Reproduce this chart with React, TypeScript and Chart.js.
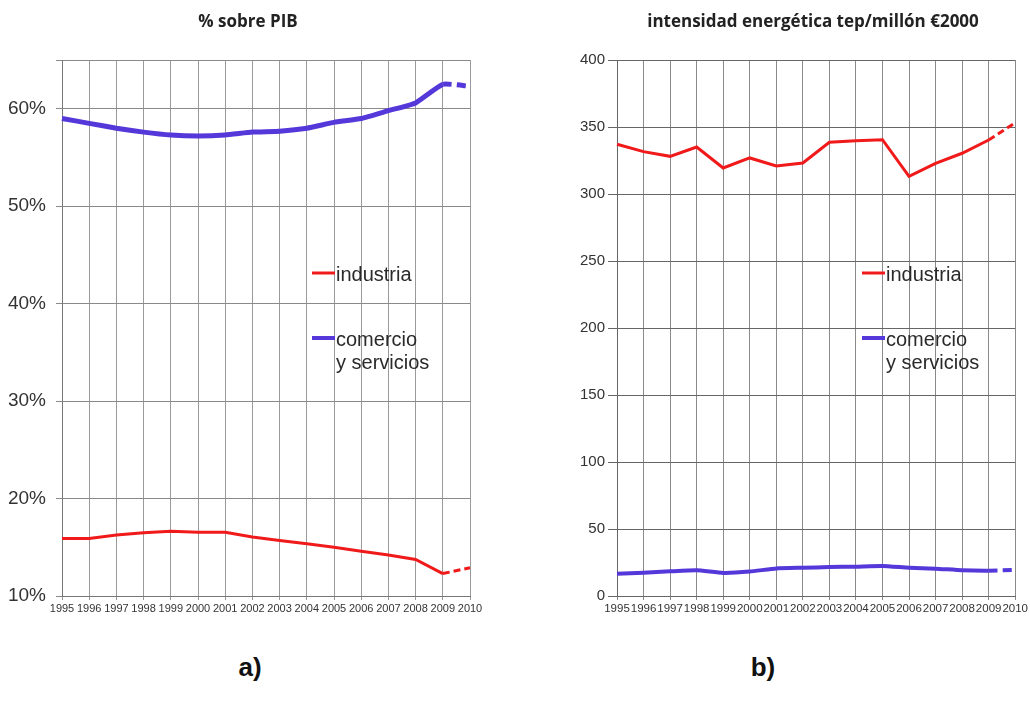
import React, { useEffect, useRef } from 'react';
import { Chart, registerables } from 'chart.js';
Chart.register(...registerables);

const years = ['1995', '1996', '1997', '1998', '1999', '2000', '2001', '2002', '2003', '2004', '2005', '2006', '2007', '2008', '2009', '2010'];
const pibIndustria = [15.9, 15.9, 16.25, 16.5, 16.65, 16.55, 16.55, 16.05, 15.7, 15.35, 15.0, 14.6, 14.2, 13.75, 12.3, 12.9];
const pibServicios = [59.0, 58.5, 58.0, 57.6, 57.3, 57.2, 57.3, 57.6, 57.7, 58.0, 58.6, 59.0, 59.8, 60.6, 62.5, 62.3];
const intIndustria = [337.1, 331.6, 328.1, 335.1, 319.4, 326.9, 320.9, 323.1, 338.6, 339.8, 340.5, 313.2, 322.9, 330.4, 340.3, 353.2];
const intServicios = [16.6, 17.4, 18.4, 19.2, 17.2, 18.2, 20.6, 21.1, 21.6, 21.9, 22.4, 21.1, 20.4, 19.2, 18.9, 19.4];
const pibTicks = [10, 20, 30, 40, 50, 60, 65];
const pibLabeled = [10, 20, 30, 40, 50, 60];
const intTicks = [0, 50, 100, 150, 200, 250, 300, 350, 400];

const RED = '#f01a1a';
const BLUE = '#5538d9';
const LAST_REAL = 14; // dashed from 2009 onwards (estimate)

type Panel = {
  title: string;
  titleX: number;
  legendX: number;
  legendRedY: number;
  legendBlueY: number;
};

function overlayPlugin(p: Panel) {
  return {
    id: 'overlay',
    afterDraw(chart: any) {
      const ctx = chart.ctx as CanvasRenderingContext2D;
      ctx.save();
      ctx.fillStyle = '#222';
      ctx.font = 'bold 17px "Open Sans", sans-serif';
      ctx.textAlign = 'center';
      ctx.textBaseline = 'alphabetic';
      ctx.fillText(p.title, p.titleX, 27);
      ctx.textAlign = 'left';
      ctx.font = '20px "Liberation Sans", Arial, sans-serif';
      ctx.lineWidth = 3;
      ctx.strokeStyle = RED;
      ctx.beginPath();
      ctx.moveTo(p.legendX, p.legendRedY);
      ctx.lineTo(p.legendX + 23, p.legendRedY);
      ctx.stroke();
      ctx.fillStyle = '#2a2a2a';
      ctx.fillText('industria', p.legendX + 24, p.legendRedY + 8);
      ctx.strokeStyle = BLUE;
      ctx.lineWidth = 4;
      ctx.beginPath();
      ctx.moveTo(p.legendX, p.legendBlueY);
      ctx.lineTo(p.legendX + 23, p.legendBlueY);
      ctx.stroke();
      ctx.fillText('comercio', p.legendX + 24, p.legendBlueY + 8);
      ctx.fillText('y servicios', p.legendX + 24, p.legendBlueY + 31);
      ctx.restore();
    },
  };
}

function dashed(d: number[]) {
  return (c: any) => (c.p0DataIndex >= LAST_REAL ? d : undefined);
}

function makeLeft(canvas: HTMLCanvasElement) {
  return new Chart(canvas, {
    type: 'line',
    data: {
      labels: years,
      datasets: [
        {
          data: pibIndustria,
          borderColor: RED,
          borderWidth: 3,
          pointRadius: 0,
          tension: 0,
          segment: { borderDash: dashed([7, 4]) },
        },
        {
          data: pibServicios,
          borderColor: BLUE,
          borderWidth: 5,
          pointRadius: 0,
          tension: 0.15,
          segment: { borderDash: dashed([9, 5]) },
        },
      ],
    },
    options: {
      responsive: false,
      animation: false,
      devicePixelRatio: 1,
      layout: { padding: { top: 60, right: 30, left: 0, bottom: 0 } },
      plugins: { legend: { display: false }, tooltip: { enabled: false } },
      scales: {
        x: {
          offset: false,
          grid: { color: '#9a9a9a', lineWidth: 1, tickLength: 4 },
          border: { color: '#777' },
          ticks: {
            color: '#333',
            font: { family: 'Liberation Sans, Arial', size: 11 },
            padding: 2,
            maxRotation: 0,
            autoSkip: false,
          },
          afterFit: (s: any) => { s.height = 44; },
        },
        y: {
          min: 10,
          max: 65,
          afterBuildTicks: (s: any) => { s.ticks = pibTicks.map((v) => ({ value: v })); },
          grid: { color: '#8a8a8a', lineWidth: 1, tickLength: 6 },
          border: { color: '#777' },
          ticks: {
            color: '#333',
            font: { family: 'Liberation Sans, Arial', size: 19 },
            padding: 10,
            callback: (v: any) => (pibLabeled.includes(Number(v)) ? v + '%' : ''),
          },
          afterFit: (s: any) => { s.width = 62; },
        },
      },
    },
    plugins: [overlayPlugin({ title: '% sobre PIB', titleX: 248, legendX: 312, legendRedY: 273, legendBlueY: 338 })],
  } as any);
}

function makeRight(canvas: HTMLCanvasElement) {
  return new Chart(canvas, {
    type: 'line',
    data: {
      labels: years,
      datasets: [
        {
          data: intIndustria,
          borderColor: RED,
          borderWidth: 3,
          pointRadius: 0,
          tension: 0,
          segment: { borderDash: dashed([7, 4]) },
        },
        {
          data: intServicios,
          borderColor: BLUE,
          borderWidth: 4,
          pointRadius: 0,
          tension: 0.15,
          segment: { borderDash: dashed([9, 5]) },
        },
      ],
    },
    options: {
      responsive: false,
      animation: false,
      devicePixelRatio: 1,
      layout: { padding: { top: 60, right: 12, left: 0, bottom: 0 } },
      plugins: { legend: { display: false }, tooltip: { enabled: false } },
      scales: {
        x: {
          offset: false,
          grid: { color: '#8a8a8a', lineWidth: 1, tickLength: 4 },
          border: { color: '#666' },
          ticks: {
            color: '#333',
            font: { family: 'Liberation Sans, Arial', size: 11.5 },
            padding: 2,
            maxRotation: 0,
            autoSkip: false,
          },
          afterFit: (s: any) => { s.height = 44; },
        },
        y: {
          min: 0,
          max: 400,
          afterBuildTicks: (s: any) => { s.ticks = intTicks.map((v) => ({ value: v })); },
          grid: { color: '#666', lineWidth: 1, tickLength: 9 },
          border: { color: '#666' },
          ticks: {
            color: '#333',
            font: { family: 'Liberation Sans, Arial', size: 15 },
            padding: 3,
          },
          afterFit: (s: any) => { s.width = 97; },
        },
      },
    },
    plugins: [overlayPlugin({ title: 'intensidad energética tep/millón €2000', titleX: 293, legendX: 342, legendRedY: 273, legendBlueY: 338 })],
  } as any);
}

export default function App() {
  const leftRef = useRef<HTMLCanvasElement>(null);
  const rightRef = useRef<HTMLCanvasElement>(null);
  useEffect(() => {
    const a = makeLeft(leftRef.current!);
    const b = makeRight(rightRef.current!);
    return () => {
      a.destroy();
      b.destroy();
    };
  }, []);
  const lbl: React.CSSProperties = {
    position: 'absolute',
    top: 652,
    width: 60,
    textAlign: 'center',
    font: 'bold 26px "Liberation Sans", Arial, sans-serif',
    color: '#111',
  };
  return (
    <div style={{ position: 'absolute', left: 0, top: 0, width: 1030, height: 713, background: '#fff', overflow: 'hidden' }}>
      <canvas ref={leftRef} width={500} height={640} style={{ position: 'absolute', left: 0, top: 0, width: 500, height: 640 }} />
      <canvas ref={rightRef} width={510} height={640} style={{ position: 'absolute', left: 520, top: 0, width: 510, height: 640 }} />
      <div style={{ ...lbl, left: 220 }}>a)</div>
      <div style={{ ...lbl, left: 733 }}>b)</div>
    </div>
  );
}
